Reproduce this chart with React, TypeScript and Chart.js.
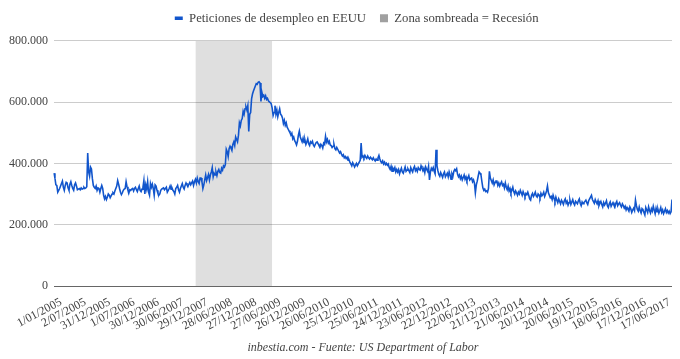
import React, { useEffect, useRef } from 'react';
import { Chart, registerables } from 'chart.js';

Chart.register(...registerables);

const SERIF = "'Liberation Serif', serif";

const tickLabels = [
  '1/01/2005', '2/07/2005', '31/12/2005', '1/07/2006', '30/12/2006', '30/06/2007',
  '29/12/2007', '28/06/2008', '27/12/2008', '27/06/2009', '26/12/2009', '26/06/2010',
  '25/12/2010', '25/06/2011', '24/12/2011', '23/06/2012', '22/12/2012', '22/06/2013',
  '21/12/2013', '21/06/2014', '20/12/2014', '20/06/2015', '19/12/2015', '18/06/2016',
  '17/12/2016', '17/06/2017',
];
const weeksPerTick = 26;

// Weekly initial claims, thousands (consecutive blocks of weeks)
const claims2005a = [368, 352, 330, 328, 306, 312, 318, 326, 334, 342, 322, 312, 328, 338, 336, 320, 312, 332, 340, 328, 318, 312, 330, 336, 326, 314];
const claims2005b = [316, 318, 314, 320, 316, 318, 322, 318, 320, 324, 434, 372, 358, 388, 382, 350, 328, 322, 318, 326, 312, 320, 318, 306, 318, 328];
const claims2006a = [318, 296, 284, 292, 282, 290, 300, 296, 288, 294, 300, 304, 300, 310, 318, 326, 344, 332, 318, 306, 298, 304, 312, 316, 318, 340];
const claims2006b = [324, 312, 304, 314, 312, 316, 318, 310, 318, 322, 314, 308, 318, 326, 312, 308, 316, 322, 344, 300, 330, 316, 340, 306, 296, 334, 322];
const claims2007a = [332, 318, 296, 330, 326, 312, 302, 296, 300, 312, 316, 318, 320, 314, 318, 322, 306, 312, 318, 326, 316, 320, 312, 308, 300, 318];
const claims2007b = [322, 328, 314, 306, 318, 326, 334, 322, 316, 328, 336, 330, 324, 332, 338, 330, 336, 342, 328, 340, 348, 336, 352, 340, 334, 352];
const claims2008a = [352, 340, 318, 330, 346, 362, 344, 354, 364, 346, 362, 372, 386, 356, 368, 362, 372, 360, 374, 380, 370, 368, 384, 378, 392, 388];
const claims2008b = [396, 446, 438, 422, 448, 456, 450, 442, 462, 470, 458, 486, 478, 470, 492, 532, 522, 540, 546, 570, 560, 578, 584, 574, 588, 504, 560];
const claims2009a = [566, 610, 626, 636, 644, 652, 660, 658, 664, 666, 662, 602, 632, 618, 622, 612, 620, 608, 612, 604, 600, 598, 594, 580, 556, 566];
const claims2009b = [588, 560, 574, 552, 566, 578, 560, 556, 548, 530, 540, 524, 532, 518, 512, 506, 500, 492, 498, 480, 486, 474, 468, 460, 472, 492];
const claims2010a = [505, 486, 478, 470, 482, 468, 476, 462, 470, 480, 464, 458, 470, 466, 472, 460, 455, 462, 468, 470, 464, 458, 452, 462, 458, 450, 466];
const claims2010b = [462, 488, 470, 478, 466, 472, 460, 458, 452, 456, 462, 448, 444, 452, 446, 440, 434, 438, 430, 424, 428, 418, 422, 416, 420, 410];
const claims2011a = [412, 404, 398, 392, 402, 396, 388, 394, 400, 392, 398, 404, 410, 466, 420, 424, 418, 426, 420, 416, 424, 418, 414, 420, 416, 412];
const claims2011b = [418, 412, 408, 414, 410, 418, 426, 414, 406, 402, 408, 398, 404, 396, 400, 394, 398, 386, 380, 390, 374, 384, 378, 386, 372, 380];
const claims2012a = [372, 380, 366, 376, 384, 372, 368, 378, 388, 374, 378, 382, 376, 370, 386, 378, 372, 384, 390, 376, 382, 374, 386, 380, 378, 392, 384];
const claims2012b = [376, 384, 370, 388, 380, 374, 390, 346, 372, 384, 378, 386, 374, 366, 444, 392, 376, 364, 358, 370, 362, 354, 366, 372, 356, 362];
const claims2013a = [368, 356, 372, 362, 348, 366, 358, 374, 380, 376, 382, 364, 356, 362, 350, 358, 346, 354, 362, 348, 356, 344, 352, 360, 346, 350];
const claims2013b = [352, 340, 346, 336, 304, 330, 342, 358, 372, 368, 362, 340, 320, 312, 316, 308, 310, 306, 318, 374, 352, 344, 336, 346, 330, 338, 342];
const claims2014a = [342, 328, 336, 326, 334, 340, 328, 332, 320, 336, 322, 314, 326, 310, 318, 304, 312, 322, 308, 300, 310, 304, 296, 306, 300, 312];
const claims2014b = [304, 296, 308, 300, 292, 302, 298, 306, 296, 284, 280, 296, 302, 292, 298, 306, 294, 290, 300, 296, 288, 302, 294, 298, 306, 292];
const claims2015a = [300, 310, 326, 304, 296, 288, 292, 282, 296, 286, 276, 290, 280, 272, 284, 276, 268, 280, 274, 266, 278, 284, 270, 276, 264, 272];
const claims2015b = [280, 266, 274, 282, 270, 264, 276, 272, 268, 278, 284, 270, 262, 274, 268, 272, 276, 280, 272, 266, 278, 284, 290, 296, 282, 276, 270];
const claims2016a = [282, 274, 268, 278, 262, 270, 276, 266, 258, 272, 264, 270, 278, 262, 256, 268, 274, 260, 266, 272, 264, 258, 270, 276, 262, 268];
const claims2016b = [272, 264, 258, 268, 262, 254, 260, 248, 256, 250, 244, 258, 252, 240, 248, 254, 246, 280, 262, 250, 244, 258, 246, 238, 252, 248];
const claims2017a = [240, 232, 256, 248, 240, 258, 246, 238, 252, 244, 260, 248, 236, 254, 242, 250, 238, 246, 256, 240, 248, 236, 244, 252, 240, 246];
const claims2017b = [238, 244, 236, 242, 282];

// Recession shading: first and last week index of the shaded zone
const recessionStartWeek = 151;
const recessionEndWeek = 233;
const recessionTop = 800000;

const claims = [
  ...claims2005a, ...claims2005b, ...claims2006a, ...claims2006b, ...claims2007a, ...claims2007b,
  ...claims2008a, ...claims2008b, ...claims2009a, ...claims2009b, ...claims2010a, ...claims2010b,
  ...claims2011a, ...claims2011b, ...claims2012a, ...claims2012b, ...claims2013a, ...claims2013b,
  ...claims2014a, ...claims2014b, ...claims2015a, ...claims2015b, ...claims2016a, ...claims2016b,
  ...claims2017a, ...claims2017b,
].map((v) => v * 1000);

const weekLabels = claims.map((_, i) => {
  const d = new Date(Date.UTC(2005, 0, 1) + i * 7 * 86400000);
  return `${d.getUTCDate()}/${String(d.getUTCMonth() + 1).padStart(2, '0')}/${d.getUTCFullYear()}`;
});

const recession = claims.map((_, i) => (i >= recessionStartWeek && i <= recessionEndWeek ? recessionTop : null));

const fmt = (v: number) => String(v).replace(/\B(?=(\d{3})+(?!\d))/g, '.');

export default function App() {
  const ref = useRef<HTMLCanvasElement>(null);
  useEffect(() => {
    const chart = new Chart(ref.current as HTMLCanvasElement, {
      type: 'line',
      data: {
        labels: weekLabels,
        datasets: [
          {
            label: 'Peticiones de desempleo en EEUU',
            data: claims,
            borderColor: '#1155cc',
            borderWidth: 1.6,
            pointRadius: 0,
            tension: 0,
            fill: false,
          },
          {
            label: 'Zona sombreada = Recesión',
            data: recession,
            borderWidth: 0,
            borderColor: 'rgba(0,0,0,0)',
            backgroundColor: 'rgba(0,0,0,0.125)',
            pointRadius: 0,
            fill: 'origin',
            spanGaps: false,
          },
        ],
      },
      options: {
        animation: false,
        responsive: true,
        maintainAspectRatio: false,
        layout: { padding: { left: 0, right: 0, top: -10, bottom: 0 } },
        plugins: {
          legend: {
            fullSize: false,
            labels: {
              usePointStyle: true,
              pointStyleWidth: 8,
              boxWidth: 8,
              boxHeight: 8,
              padding: 14,
              color: '#444',
              font: { family: SERIF, size: 12.7 },
              generateLabels: () => [
                { text: 'Peticiones de desempleo en EEUU', fillStyle: '#1155cc', strokeStyle: '#1155cc', lineWidth: 3.5, pointStyle: 'line', datasetIndex: 0, hidden: false, fontColor: '#444' } as any,
                { text: 'Zona sombreada = Recesión    ', fillStyle: '#a0a0a0', strokeStyle: '#a0a0a0', lineWidth: 0, pointStyle: 'rect', datasetIndex: 1, hidden: false, fontColor: '#444' } as any,
              ],
            },
          },
          subtitle: {
            display: true,
            position: 'top',
            weight: 500,
            text: '',
            font: { size: 1, lineHeight: 1 },
            padding: { top: 5, bottom: 0 },
          },
          title: {
            display: true,
            fullSize: false,
            position: 'bottom',
            text: 'inbestia.com - Fuente: US Department of Labor',
            color: '#444',
            font: { family: SERIF, size: 12, style: 'italic', weight: 'normal' },
            padding: { top: 0, bottom: 4 },
          },
          tooltip: { enabled: false },
        },
        scales: {
          x: {
            type: 'category',
            grid: { display: false, drawTicks: false },
            border: { display: false },
            ticks: {
              autoSkip: false,
              minRotation: 28,
              maxRotation: 28,
              padding: 9,
              labelOffset: 7,
              color: '#444',
              font: { family: SERIF, size: 12 },
              callback: (_v: any, i: number) => (i % weeksPerTick === 0 ? tickLabels[i / weeksPerTick] : null),
            },
            afterFit: (a: any) => {
              a.paddingLeft = 0;
              a.paddingRight = 0;
              a.height = 54.6;
            },
          },
          y: {
            min: 0,
            max: 800000,
            ticks: {
              stepSize: 200000,
              padding: 6,
              color: '#444',
              font: { family: SERIF, size: 12 },
              callback: (v: any) => fmt(Number(v)),
            },
            grid: {
              color: (c: any) => (c.tick && c.tick.value === 0 ? '#666' : '#cccccc'),
              drawTicks: false,
              lineWidth: 1,
            },
            border: { display: false },
            afterFit: (a: any) => {
              a.width = 46;
            },
          },
        },
      },
    });
    return () => chart.destroy();
  }, []);
  return (
    <div style={{ position: 'relative', width: 664, height: 351 }}>
      <canvas ref={ref} />
    </div>
  );
}
